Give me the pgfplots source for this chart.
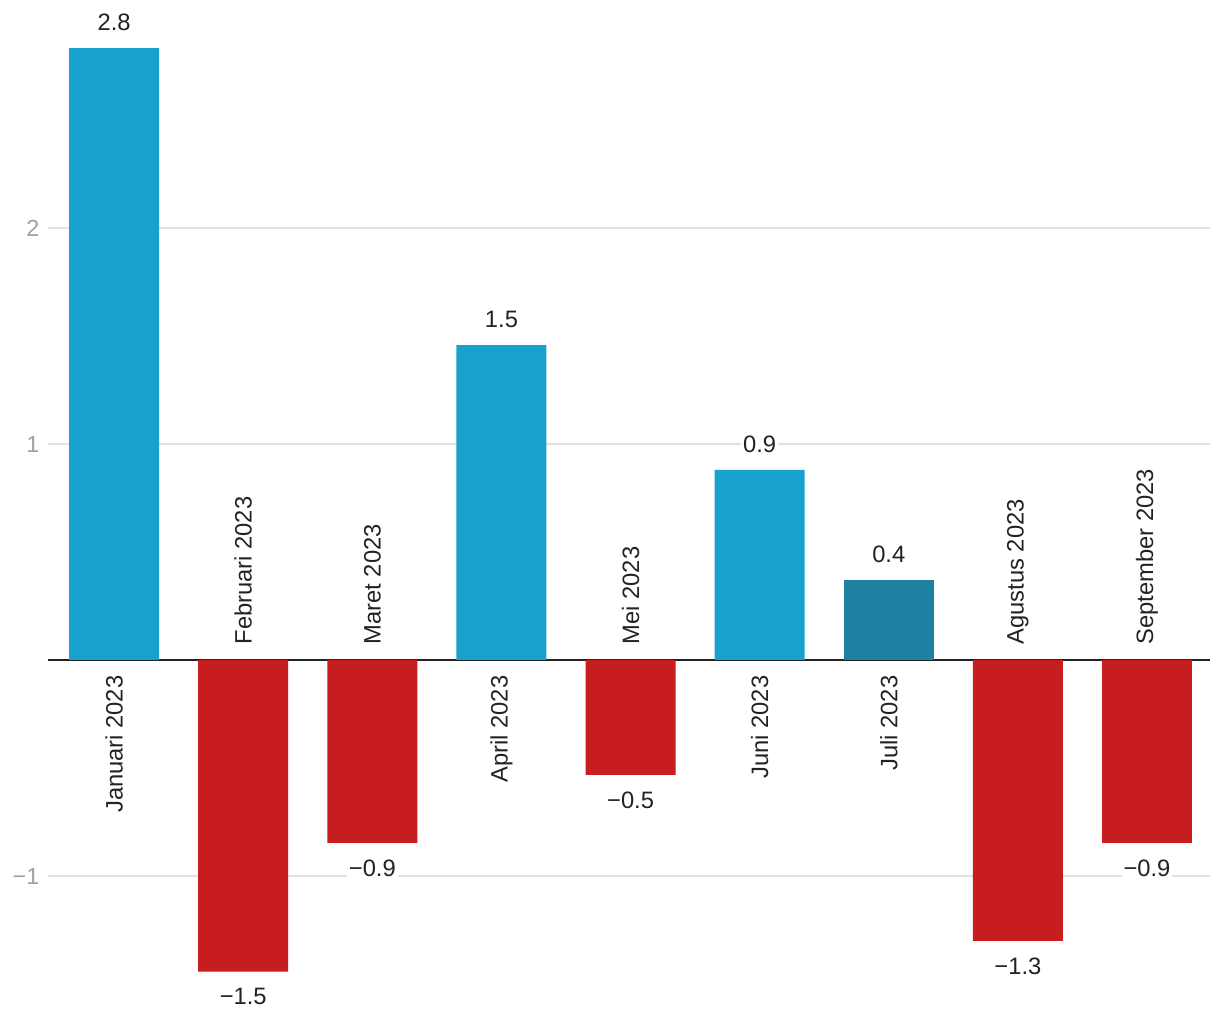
\documentclass[border=0pt]{standalone}
\usepackage{pgfplots}
\pgfplotsset{compat=1.18}
\usepackage{fontspec}
\setmainfont{Liberation Sans}
\definecolor{pos}{HTML}{19A1CD}
\definecolor{dark}{HTML}{1E81A2}
\definecolor{neg}{HTML}{C81D1F}
\definecolor{txt}{HTML}{222222}
\definecolor{tick}{HTML}{A0A0A0}
\definecolor{gridc}{HTML}{E0E0E0}
\begin{document}
\begin{tikzpicture}
\begin{axis}[
  scale only axis, width=871.5pt, height=745.2pt,
  xmin=-0.512, xmax=8.488, ymin=-1.6, ymax=3.0,
  axis line style={draw=none},
  xtick=\empty,
  ytick={-1,1,2}, yticklabels={−1,1,2},
  major tick length=0pt,
  ymajorgrids, grid style={gridc, line width=1pt},
  extra y ticks={0}, extra y tick labels={},
  extra y tick style={grid style={txt, line width=1.5pt}},
  yticklabel style={font=\fontsize{17.5}{20}\selectfont, text=tick, xshift=-3pt},
  ybar, bar width=0.697, bar shift=0pt,
  clip=false,
  nodes near coords, point meta=explicit symbolic,
  every node near coord/.append style={font=\fontsize{17.8}{20}\selectfont, text=txt, fill=white, inner sep=1.5pt},
]
\path (axis cs:-0.884,-1.6667) rectangle (axis cs:8.5655,3.0556);
\addplot[fill=pos, draw=none, nodes near coords style={anchor=south, yshift=11.5pt}] coordinates {
 (0,2.833) [2.8] (3,1.458) [1.5] (5,0.880) [0.9]};
\addplot[fill=dark, draw=none, nodes near coords style={anchor=south, yshift=11.5pt}] coordinates {
 (6,0.370) [0.4]};
\addplot[fill=neg, draw=none, nodes near coords style={anchor=north, yshift=-11pt}] coordinates {
 (1,-1.443) [−1.5] (2,-0.847) [−0.9] (4,-0.532) [−0.5] (7,-1.301) [−1.3] (8,-0.847) [−0.9]};
\addplot[draw=none, fill=none, nodes near coords style={fill=none, yshift=-10pt, rotate=90, anchor=east}] coordinates {
 (0,0) [Januari 2023] (3,0) [April 2023] (5,0) [Juni 2023] (6,0) [Juli 2023]};
\addplot[draw=none, fill=none, nodes near coords style={fill=none, yshift=10pt, rotate=90, anchor=west}] coordinates {
 (1,0) [Februari 2023] (2,0) [Maret 2023] (4,0) [Mei 2023] (7,0) [Agustus 2023] (8,0) [September 2023]};
\end{axis}
\end{tikzpicture}
\end{document}
